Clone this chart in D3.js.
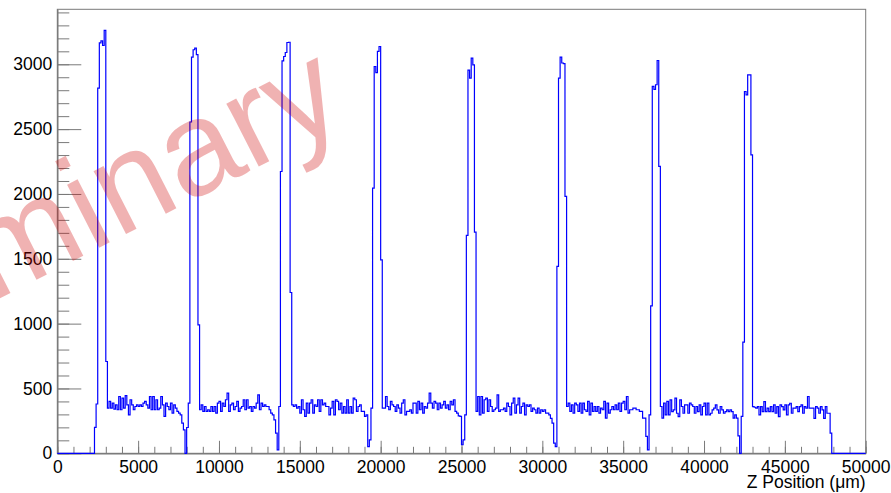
<!DOCTYPE html>
<html>
<head>
<meta charset="utf-8">
<script src="https://cdn.jsdelivr.net/npm/d3@7"></script>
<style>
  body { margin: 0; background: #fff; }
  svg { display: block; font-family: "Liberation Sans", Arial, Helvetica, sans-serif; }
</style>
</head>
<body>
<script>
// Histogram binning (um)
var xMin = 0, xMax = 50000, binWidth = 100;

// Bin contents, 500 bins of 100 um
var counts = [
    0, 0, 0, 0, 0, 0, 0, 0, 0, 0, 0, 0, 0, 0, 0, 0, 0, 0, 0, 0, 0, 0, 0,
    200, 380,
    2816, 3165, 3180, 3145, 3262, 708,
    348, 400, 348, 387, 340, 374, 336, 438, 336, 426, 348, 445, 374, 297, 413, 374,
    336, 361, 374, 361, 374, 361, 387, 400, 374, 348, 438, 336, 438, 336, 413, 336,
    348, 438, 374, 284, 387, 361, 336, 387, 310, 374, 348, 323, 310, 297,
    233, 181, 0, 199, 387,
    2555, 3055, 3112, 3125, 3075, 990,
    336, 374, 323, 361, 323, 336, 323, 361, 323, 361, 310, 387, 400, 323, 387, 361,
    413, 464, 323, 374, 387, 336, 361, 400, 323, 348, 361, 413, 336, 413, 348, 361,
    323, 361, 348, 387, 451, 336, 387, 361, 374, 361, 361, 336, 310,
    297, 258, 156, 27, 361,
    2173, 3027, 3060, 3091, 3168, 3170, 1240,
    374, 361, 374, 348, 361, 310, 413, 336, 284, 387, 310, 387, 413, 310, 374, 361,
    413, 323, 413, 374, 387, 361, 361, 297, 348, 400, 297, 413, 400, 336, 387, 310,
    361, 310, 413, 310, 361, 310, 426, 413, 323, 361, 374, 323, 323, 284,
    297, 52, 104, 349,
    2045, 2983, 2935, 3100, 3137, 1492,
    348, 348, 438, 361, 336, 400, 374, 361, 323, 374, 348, 310, 387, 413, 297, 323,
    323, 336, 310, 387, 387, 310, 400, 336, 387, 310, 361, 348, 387, 464, 387, 348,
    400, 387, 336, 387, 348, 374, 400, 348, 374, 336, 400, 374, 413, 323, 310, 289, 284,
    66, 104, 297,
    1680, 2955, 2894, 3048, 2996, 1706,
    323, 438, 297, 438, 310, 413, 426, 323, 413, 361, 323, 336, 348, 451, 323, 336,
    336, 348, 323, 387, 361, 297, 387, 426, 310, 374, 426, 310, 361, 387, 297, 374,
    361, 374, 323, 348, 336, 310, 348, 310, 336, 323, 336, 310, 310, 297,
    270, 233, 79, 52,
    1441, 2894, 3055, 3010, 3005, 1981,
    361, 387, 323, 374, 310, 387, 374, 323, 387, 310, 387, 336, 323, 400, 297, 387,
    323, 361, 323, 361, 310, 348, 336, 400, 271, 387, 310, 336, 361, 336, 374, 336,
    387, 323, 387, 400, 336, 438, 310, 336, 336, 348, 348, 336, 336, 323,
    323, 271, 271, 130, 27, 297,
    1137, 2829, 2806, 2842, 3029, 2212,
    361, 271, 387, 296, 400, 296, 412, 322, 335, 425, 309, 283, 412, 361, 309, 374,
    374, 309, 387, 374, 361, 309, 361, 322, 374, 296, 361, 387, 296, 387, 296, 309,
    335, 348, 374, 335, 309, 361, 335, 309, 322, 335, 322, 335, 322,
    271, 296, 271, 135, 0, 284,
    858, 2790, 2764, 2919, 2919, 2302,
    360, 355, 348, 360, 296, 360, 322, 399, 322, 348, 322, 360, 322, 373, 309, 360,
    283, 373, 360, 335, 373, 296, 373, 386, 309, 348, 348, 360, 322, 360, 373, 309,
    360, 348, 438, 348, 348, 348, 270, 360, 348, 309, 360, 335, 270, 360, 309, 309,
    155,
    0, 0, 0, 0, 0, 0, 0, 0, 0, 0, 0, 0, 0, 0, 0, 0, 0, 0, 0, 0, 0
];

// Axis ticks
var xMajorTicks = [0, 5000, 10000, 15000, 20000, 25000, 30000, 35000, 40000, 45000, 50000];
var yMajorTicks = [0, 500, 1000, 1500, 2000, 2500, 3000];
var xMinorStep = 1000, yMinorStep = 100;
var yMaxValue = 3424;

var xTitle = "Z Position (\u03bcm)";
var watermarkText = "Preliminary";

window.onload = function() {

    var w = 891, h = 493;
    var left = 57.3, right = 865.7, top = 9.3, bottom = 453.3;

    var svg = d3.select("body")
        .append("svg")
        .attr("width", w)
        .attr("height", h);

    svg.append("rect")
        .attr("width", w)
        .attr("height", h)
        .style("fill", "#fff");

    // Scales
    var x = d3.scaleLinear().domain([xMin, xMax]).range([left, right]);
    var y = d3.scaleLinear().domain([0, yMaxValue]).range([bottom, top]);

    // Frame
    svg.append("rect")
        .attr("x", left)
        .attr("y", top)
        .attr("width", right - left)
        .attr("height", bottom - top)
        .style("fill", "none")
        .style("stroke", "#7a7a7a")
        .style("stroke-width", 1);

    // Minor ticks
    var xMinor = d3.range(xMin, xMax + 1, xMinorStep);
    var yMinor = d3.range(0, yMaxValue, yMinorStep);

    svg.append("g")
        .attr("class", "x minor")
        .attr("transform", "translate(0," + bottom + ")")
        .call(d3.axisBottom(x).tickValues(xMinor).tickSize(-6.5).tickSizeOuter(0).tickFormat(""));

    svg.append("g")
        .attr("class", "y minor")
        .attr("transform", "translate(" + left + ",0)")
        .call(d3.axisLeft(y).tickValues(yMinor).tickSize(-12).tickSizeOuter(0).tickFormat(""));

    // Major ticks + labels
    var fmt = d3.format("d");

    svg.append("g")
        .attr("class", "x major")
        .attr("transform", "translate(0," + bottom + ")")
        .call(d3.axisBottom(x).tickValues(xMajorTicks).tickSize(-12.5).tickSizeOuter(0)
            .tickPadding(7.5).tickFormat(fmt));

    svg.append("g")
        .attr("class", "y major")
        .attr("transform", "translate(" + left + ",0)")
        .call(d3.axisLeft(y).tickValues(yMajorTicks).tickSize(-24).tickSizeOuter(0)
            .tickPadding(5).tickFormat(fmt));

    svg.selectAll(".tick line").style("stroke", "#7a7a7a");
    svg.selectAll(".domain").style("stroke", "#7a7a7a");
    svg.selectAll(".tick text")
        .style("font-size", "17.5px")
        .style("font-family", "'Liberation Sans', Arial, sans-serif")
        .style("fill", "#000");

    // Axis title
    svg.append("text")
        .attr("x", right)
        .attr("y", 488)
        .attr("text-anchor", "end")
        .style("font-size", "17.5px")
        .text(xTitle);

    // Histogram outline
    var pts = counts.map(function(c, i) { return [xMin + i * binWidth, c]; });
    pts.push([xMax, counts[counts.length - 1]]);

    var line = d3.line()
        .x(function(d) { return x(d[0]); })
        .y(function(d) { return y(d[1]); })
        .curve(d3.curveStepAfter);

    svg.append("path")
        .datum(pts)
        .attr("d", line)
        .style("fill", "none")
        .style("stroke", "#0000ff")
        .style("stroke-width", 1.2);

    // Watermark
    svg.append("text")
        .attr("transform", "translate(350,120) rotate(-27)")
        .attr("text-anchor", "end")
        .style("font-size", "134px")
        .style("fill", "#cc0000")
        .style("fill-opacity", 0.3)
        .text(watermarkText);
};
</script>
</body>
</html>
